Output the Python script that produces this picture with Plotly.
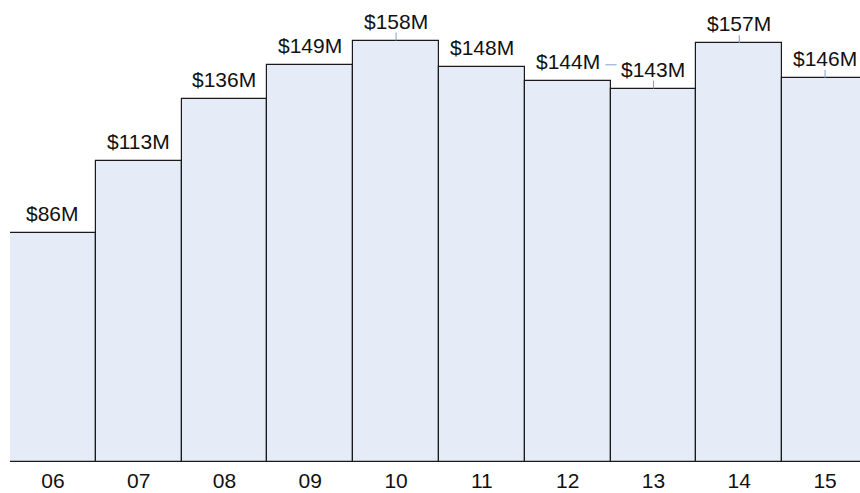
import plotly.graph_objects as go

years = ["06", "07", "08", "09", "10", "11", "12", "13", "14", "15"]
revenue = [86, 113, 136, 149, 158, 148, 143, 140, 157, 144]  # bar heights ($M) as drawn
labels = ["$86M", "$113M", "$136M", "$149M", "$158M", "$148M", "$144M", "$143M", "$157M", "$146M"]
connector_years = ["10", "13", "14", "15"]

FILL = "rgb(230,236,247)"
EDGE = "#1a1a1a"
BLUE = "#7f9fd0"
FONT = "Liberation Sans, Arial, sans-serif"

fig = go.Figure()
fig.add_trace(go.Bar(
    x=years, y=revenue,
    marker=dict(color=FILL, line=dict(color=EDGE, width=1.2)),
    hoverinfo="skip",
))

for yr, v, t in zip(years, revenue, labels):
    fig.add_annotation(x=years.index(yr), y=v, xref="x", yref="y", text=t, showarrow=False,
                       yanchor="bottom", yshift=6,
                       font=dict(family=FONT, size=21, color="#111"))

# small blue leader marks between labels and bar tops
for yr in connector_years:
    i = years.index(yr)
    v = revenue[i]
    fig.add_shape(type="line", xref="x", yref="y", x0=i, x1=i, y0=v, y1=v + 3,
                  line=dict(color=BLUE, width=1))
i12, i13 = years.index("12"), years.index("13")
mid_y = (revenue[i12] + revenue[i13]) / 2 + 7.4
fig.add_shape(type="line", xref="x", yref="y", x0=i12 + 0.44, x1=i12 + 0.57,
              y0=mid_y, y1=mid_y, line=dict(color=BLUE, width=1))
i14 = years.index("14")
fig.add_shape(type="line", xref="x", yref="y", x0=i14, x1=i14, y0=0, y1=-3.8,
              line=dict(color=BLUE, width=1))

fig.update_layout(
    width=860, height=493,
    margin=dict(l=10, r=0, t=0, b=31),
    paper_bgcolor="white", plot_bgcolor="white",
    bargap=0, showlegend=False,
    xaxis=dict(type="category", range=[-0.5, 9.407], showgrid=False, zeroline=False,
               showline=False, ticks="", ticklabelstandoff=4,
               tickfont=dict(family=FONT, size=21, color="#111"), fixedrange=True),
    yaxis=dict(range=[0, 173.2], visible=False, showgrid=False, zeroline=False,
               fixedrange=True),
)
fig.write_html("out.html", config={"displayModeBar": False},
               post_script="document.body.style.margin='0';")
